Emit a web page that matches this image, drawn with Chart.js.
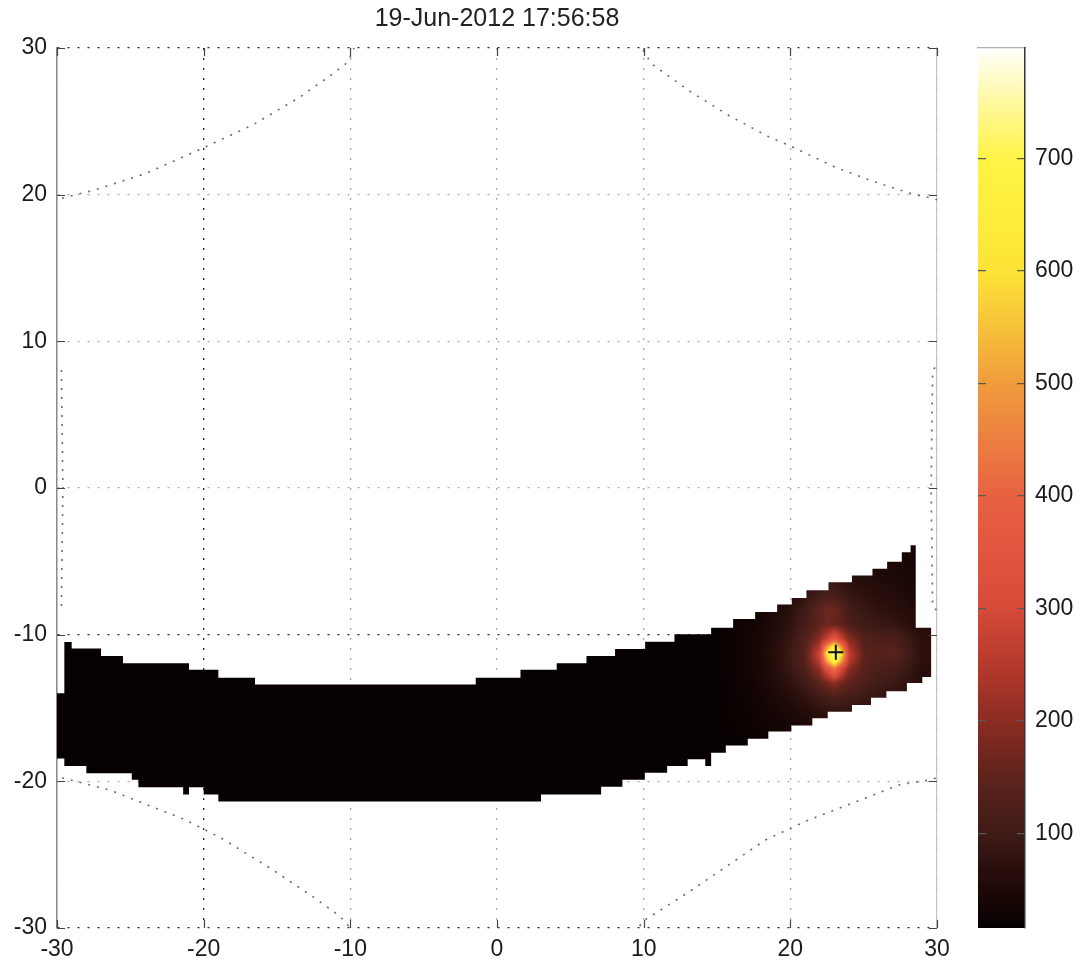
<!DOCTYPE html>
<html>
<head>
<meta charset="utf-8">
<title>19-Jun-2012 17:56:58</title>
<script src="https://cdn.jsdelivr.net/npm/chart.js@4.4.1/dist/chart.umd.min.js"></script>
<style>
  html, body { margin: 0; padding: 0; background: #fff; }
  #wrap { position: relative; width: 1082px; height: 965px; overflow: hidden; }
  #mapBox { position: absolute; left: 0; top: 0; width: 960px; height: 965px; }
  #barBox { position: absolute; left: 960px; top: 0; width: 122px; height: 965px; }
</style>
</head>
<body>
<div id="wrap">
  <div id="mapBox"><canvas id="mapChart"></canvas></div>
  <div id="barBox"><canvas id="colorbarChart"></canvas></div>
</div>
<script>
const TITLE = '19-Jun-2012 17:56:58';
const xTicks = [-30, -20, -10, 0, 10, 20, 30];
const yTicks = [-30, -20, -10, 0, 10, 20, 30];
const darkGridX = [-20];            // these grid lines came out darker in the original
const darkGridY = [30, -10, -30];

// swath outline as steps: boundaries in x, level of each step
const topEdgeX = [-30, -29.5, -29, -27, -25.5, -21, -19, -16.5, -1.45, 1.6, 4.07, 6.1, 8.05, 10.1, 12.1, 14.6, 16.1, 17.6, 19.1, 20.1, 21.1, 22.6, 24.2, 25.6, 26.6, 27.6, 28.2, 28.55, 29.6];
const topEdgeY = [-14.0, -10.5, -10.95, -11.45, -11.95, -12.4, -12.93, -13.4, -12.93, -12.4, -11.95, -11.45, -10.98, -10.48, -9.97, -9.52, -8.93, -8.45, -7.95, -7.5, -6.97, -6.43, -5.96, -5.5, -5.02, -4.38, -3.9, -9.52];
const bottomEdgeX = [-30, -29.5, -28, -24.9, -24.45, -21.4, -21, -20, -19, 3, 7.1, 8.55, 10.08, 11.6, 13, 14.2, 14.6, 15.6, 17.1, 18.5, 20.07, 21.5, 22.55, 24.2, 25.5, 26.55, 27.95, 29, 29.6];
const bottomEdgeY = [-18.45, -18.95, -19.45, -19.9, -20.4, -20.9, -20.4, -20.9, -21.37, -20.9, -20.37, -19.9, -19.42, -18.95, -18.5, -18.95, -18.05, -17.55, -17.1, -16.6, -16.2, -15.7, -15.25, -14.8, -14.3, -13.85, -13.3, -12.88];

// intensity inside the swath (right part); left of heatX[0] it is flat
const heatBase = 18;
const heatX = [14, 15, 16, 17, 18, 19, 20, 21, 22, 22.5, 23, 23.5, 24, 25, 26, 27, 28, 29];
const heatY = [-4.3, -5.3, -6.3, -7.3, -8.3, -9.3, -10.3, -10.8, -11.3, -11.8, -12.3, -13.3, -14.3, -15.3, -16.3, -17.3];
const heatZ = [
  [18, 20, 22, 24, 26, 30, 34, 38, 44, 46, 48, 48, 48, 46, 44, 42, 40, 36],
  [18, 20, 22, 24, 28, 32, 38, 44, 52, 55, 58, 57, 56, 52, 48, 46, 42, 38],
  [18, 20, 22, 26, 30, 36, 46, 58, 78, 84, 86, 80, 72, 62, 56, 52, 46, 40],
  [18, 20, 23, 28, 34, 42, 58, 80, 105, 115, 115, 100, 85, 76, 66, 60, 52, 44],
  [18, 21, 24, 30, 38, 50, 70, 100, 150, 165, 165, 140, 110, 90, 78, 70, 60, 50],
  [18, 21, 25, 31, 40, 56, 78, 110, 150, 165, 160, 145, 120, 100, 92, 84, 70, 56],
  [18, 21, 26, 32, 44, 62, 88, 130, 200, 280, 360, 280, 195, 135, 120, 125, 95, 68],
  [18, 21, 26, 33, 45, 64, 92, 135, 245, 480, 640, 460, 235, 142, 128, 135, 100, 70],
  [18, 21, 26, 33, 46, 66, 95, 140, 290, 620, 790, 600, 270, 148, 135, 145, 105, 72],
  [18, 21, 26, 33, 45, 64, 92, 135, 265, 520, 680, 500, 250, 144, 128, 130, 98, 70],
  [18, 21, 26, 32, 44, 62, 88, 125, 215, 330, 440, 310, 200, 138, 120, 115, 92, 68],
  [18, 20, 25, 30, 40, 56, 76, 100, 145, 175, 200, 170, 145, 122, 104, 92, 80, 62],
  [18, 20, 24, 28, 36, 48, 62, 78, 100, 110, 120, 115, 108, 96, 84, 76, 66, 54],
  [18, 20, 23, 26, 32, 40, 50, 60, 70, 74, 78, 76, 74, 68, 62, 56, 50, 46],
  [18, 20, 22, 25, 29, 34, 40, 46, 52, 54, 56, 55, 54, 50, 47, 44, 42, 40],
  [18, 19, 20, 22, 24, 27, 30, 33, 36, 37, 38, 38, 38, 36, 34, 33, 32, 32]
];

const peakX = [23.1];
const peakY = [-11.2];

// dotted field-of-view outline (points outside the axes get clipped)
const fovX = [-9.5, -10.16, -11.46, -13.46, -16.64, -20.0, -23.95, -27.5, -29.5, -31.2, -31.2, -29.7, -29.6, -29.7, -31.2, -31.2, -29.5, -26.4, -21.3, -18.75, -15.5, -12.5, -10.7, -9.5,
              9.5, 9.84, 13.0, 18.3, 21.0, 27.48, 29.6, 31.2, 31.2, 29.7, 29.6, 29.7, 31.2, 31.2, 29.6, 28.3, 25.6, 23.0, 20.0, 18.54, 15.84, 13.25, 10.54, 9.5, -9.5];
const fovY = [30.6, 29.04, 28.05, 26.64, 24.76, 23.2, 21.44, 20.3, 19.8, 19.3, 10, 8, 0, -8, -10, -19.3, -19.8, -20.6, -22.6, -23.9, -25.9, -27.9, -29.2, -30.6,
              -30.6, -29.6, -27.6, -24.0, -22.74, -20.23, -19.89, -19.3, -10, -8, 0, 8, 10, 19.3, 19.77, 20.05, 20.92, 21.9, 23.32, 23.94, 25.38, 26.98, 28.92, 30.6, 30.6];

// colour scale (hot-like) and colourbar
const cmapValues = [16, 40, 70, 100, 150, 200, 250, 300, 350, 400, 450, 500, 550, 600, 650, 700, 750, 798];
const cmapColors = ['#050000', '#170605', '#2a0f0c', '#3f1b17', '#5e231c', '#8b2c22', '#b53a2c', '#d64a38', '#e25540', '#e76241', '#ec7f40', '#f19c3d', '#f7c23a', '#fde337', '#feee3b', '#fff347', '#fff9a0', '#ffffff'];
const cbMin = 16;
const cbMax = 798;
const cbTicks = [100, 200, 300, 400, 500, 600, 700];

// --- HELPERS ---
const FONT = '"Liberation Sans", Arial, Helvetica, sans-serif';
Chart.defaults.font.family = FONT;
Chart.defaults.font.size = 23;
Chart.defaults.color = '#1a1a1a';

const cmapRgb = cmapColors.map(h => [parseInt(h.slice(1, 3), 16), parseInt(h.slice(3, 5), 16), parseInt(h.slice(5, 7), 16)]);

function colorAt(v) {
    if (v <= cmapValues[0]) return cmapRgb[0];
    for (let k = 1; k < cmapValues.length; k++) {
        if (v <= cmapValues[k]) {
            const t = (v - cmapValues[k - 1]) / (cmapValues[k] - cmapValues[k - 1]);
            const a = cmapRgb[k - 1], b = cmapRgb[k];
            return [a[0] + (b[0] - a[0]) * t, a[1] + (b[1] - a[1]) * t, a[2] + (b[2] - a[2]) * t];
        }
    }
    return cmapRgb[cmapRgb.length - 1];
}

function sampleHeat(x, y) {
    if (x < heatX[0]) return heatBase;
    const cx = Math.min(x, heatX[heatX.length - 1]);
    const cy = Math.max(Math.min(y, heatY[0]), heatY[heatY.length - 1]);
    let i = 0; while (i < heatX.length - 2 && heatX[i + 1] < cx) i++;
    let j = 0; while (j < heatY.length - 2 && heatY[j + 1] > cy) j++;
    const tx = (cx - heatX[i]) / (heatX[i + 1] - heatX[i]);
    const ty = (cy - heatY[j]) / (heatY[j + 1] - heatY[j]);
    return heatZ[j][i] * (1 - tx) * (1 - ty) + heatZ[j][i + 1] * tx * (1 - ty) +
           heatZ[j + 1][i] * (1 - tx) * ty + heatZ[j + 1][i + 1] * tx * ty;
}

function swathOutline() {
    const pts = [];
    for (let i = 0; i < topEdgeY.length; i++) {
        pts.push({ x: topEdgeX[i], y: topEdgeY[i] }, { x: topEdgeX[i + 1], y: topEdgeY[i] });
    }
    for (let i = bottomEdgeY.length - 1; i >= 0; i--) {
        pts.push({ x: bottomEdgeX[i + 1], y: bottomEdgeY[i] }, { x: bottomEdgeX[i], y: bottomEdgeY[i] });
    }
    return pts;
}

// fills the swath through its point elements and paints the interpolated field inside
const swathPlugin = {
    id: 'swath',
    afterDatasetDraw(chart, args) {
        if (chart.data.datasets[args.index].id !== 'swath') return;
        const pts = args.meta.data;
        const ctx = chart.ctx;
        const xs = chart.scales.x, ys = chart.scales.y;
        let x0 = Infinity, x1 = -Infinity, y0 = Infinity, y1 = -Infinity;
        pts.forEach(p => { x0 = Math.min(x0, p.x); x1 = Math.max(x1, p.x); y0 = Math.min(y0, p.y); y1 = Math.max(y1, p.y); });
        x0 = Math.floor(x0); y0 = Math.floor(y0);
        const w = Math.ceil(x1) - x0, h = Math.ceil(y1) - y0;
        const off = document.createElement('canvas');
        off.width = w; off.height = h;
        const octx = off.getContext('2d');
        const img = octx.createImageData(w, h);
        for (let j = 0; j < h; j++) {
            const vy = ys.getValueForPixel(y0 + j + 0.5);
            for (let i = 0; i < w; i++) {
                const vx = xs.getValueForPixel(x0 + i + 0.5);
                const c = colorAt(sampleHeat(vx, vy));
                const k = (j * w + i) * 4;
                img.data[k] = c[0]; img.data[k + 1] = c[1]; img.data[k + 2] = c[2]; img.data[k + 3] = 255;
            }
        }
        octx.putImageData(img, 0, 0);
        ctx.save();
        ctx.beginPath();
        pts.forEach((p, k) => k ? ctx.lineTo(p.x, p.y) : ctx.moveTo(p.x, p.y));
        ctx.closePath();
        ctx.clip();
        ctx.drawImage(off, x0, y0);
        ctx.restore();
    }
};

// matlab-style inward tick marks on all four sides + title over the axes
const frameExtras = {
    id: 'frameExtras',
    afterDraw(chart) {
        const { ctx, chartArea: a, scales: { x, y } } = chart;
        ctx.save();
        ctx.strokeStyle = '#444';
        ctx.lineWidth = 1.2;
        ctx.beginPath();
        xTicks.forEach(v => {
            const px = Math.round(x.getPixelForValue(v)) + 0.5;
            ctx.moveTo(px, a.bottom); ctx.lineTo(px, a.bottom - 8);
            ctx.moveTo(px, a.top); ctx.lineTo(px, a.top + 8);
        });
        yTicks.forEach(v => {
            const py = Math.round(y.getPixelForValue(v)) + 0.5;
            ctx.moveTo(a.left, py); ctx.lineTo(a.left + 8, py);
            ctx.moveTo(a.right, py); ctx.lineTo(a.right - 8, py);
        });
        ctx.stroke();
        ctx.fillStyle = '#222';
        ctx.font = '25px ' + FONT;
        ctx.textAlign = 'center';
        ctx.textBaseline = 'middle';
        ctx.fillText(TITLE, (a.left + a.right) / 2, 19);
        ctx.restore();
    }
};

const gridDash = [2, 8];

new Chart(document.getElementById('mapChart'), {
    type: 'scatter',
    data: {
        datasets: [
            { id: 'swath', data: swathOutline(), showLine: false, pointRadius: 0, pointHoverRadius: 0, order: 3 },
            { id: 'fov', data: fovX.map((v, i) => ({ x: v, y: fovY[i] })), showLine: true, borderColor: '#6a6a6a', borderWidth: 1.6,
              borderDash: [2, 7], pointRadius: 0, pointHoverRadius: 0, order: 2 },
            { id: 'peak', data: peakX.map((v, i) => ({ x: v, y: peakY[i] })), pointStyle: 'cross', pointRadius: 7.5,
              pointBorderColor: '#111', pointBorderWidth: 2, order: 1 }
        ]
    },
    options: {
        responsive: true,
        maintainAspectRatio: false,
        animation: false,
        devicePixelRatio: 1,
        events: [],
        layout: { padding: { top: 48, right: 23, left: 0, bottom: 0 } },
        plugins: { legend: { display: false }, tooltip: { enabled: false }, title: { display: false } },
        scales: {
            x: {
                type: 'linear', min: -30, max: 30,
                afterBuildTicks: s => { s.ticks = xTicks.map(v => ({ value: v })); },
                ticks: { padding: 8, maxRotation: 0, autoSkip: false },
                grid: { drawTicks: false, lineWidth: 1.3, color: c => darkGridX.includes(c.tick && c.tick.value) ? '#2a2a2a' : '#ababab' },
                border: { display: false, dash: gridDash },
                afterFit: s => { s.height = 37; }
            },
            y: {
                type: 'linear', min: -30, max: 30,
                afterBuildTicks: s => { s.ticks = yTicks.map(v => ({ value: v })); },
                ticks: { padding: 10 },
                grid: { drawTicks: false, lineWidth: 1.3, color: c => darkGridY.includes(c.tick && c.tick.value) ? '#2a2a2a' : '#ababab' },
                border: { display: true, color: '#8a8a8a', width: 1.5, dash: gridDash },
                afterFit: s => { s.width = 57; }
            },
            yr: {
                type: 'linear', position: 'right', min: -30, max: 30,
                ticks: { display: false },
                grid: { display: false, drawTicks: false },
                border: { display: true, color: '#c4c4c4', width: 1.2 },
                afterFit: s => { s.width = 0; }
            }
        }
    },
    plugins: [swathPlugin, frameExtras]
});

function colorbarGradient(chart) {
    const ys = chart.scales.y;
    if (!chart.chartArea || !ys) return cmapColors[0];
    const g = chart.ctx.createLinearGradient(0, ys.getPixelForValue(cbMin), 0, ys.getPixelForValue(cbMax));
    cmapValues.forEach((v, k) => g.addColorStop((v - cbMin) / (cbMax - cbMin), cmapColors[k]));
    return g;
}

new Chart(document.getElementById('colorbarChart'), {
    type: 'bar',
    data: {
        labels: [''],
        datasets: [{ data: [[cbMin, cbMax]], backgroundColor: c => colorbarGradient(c.chart), borderWidth: 0,
                     barPercentage: 1, categoryPercentage: 1 }]
    },
    options: {
        responsive: true,
        maintainAspectRatio: false,
        animation: false,
        devicePixelRatio: 1,
        events: [],
        layout: { padding: { left: 18, top: 48, bottom: 37, right: 0 } },
        plugins: { legend: { display: false }, tooltip: { enabled: false } },
        scales: {
            x: {
                position: 'top',
                ticks: { display: false },
                grid: { display: false, drawTicks: false },
                border: { display: true, color: '#b0b0b0', width: 1.2, z: 1 },
                afterFit: s => { s.height = 0; }
            },
            y: {
                position: 'right', min: cbMin, max: cbMax,
                afterBuildTicks: s => { s.ticks = cbTicks.map(v => ({ value: v })); },
                ticks: { padding: 10 },
                grid: { drawTicks: false, color: '#5a5a5a', lineWidth: 1.2, z: 1 },
                border: { display: true, color: '#333', width: 1.5, dash: [8, 31], z: 1 },
                afterFit: s => { s.width = 57; }
            }
        }
    }
});
</script>
</body>
</html>
